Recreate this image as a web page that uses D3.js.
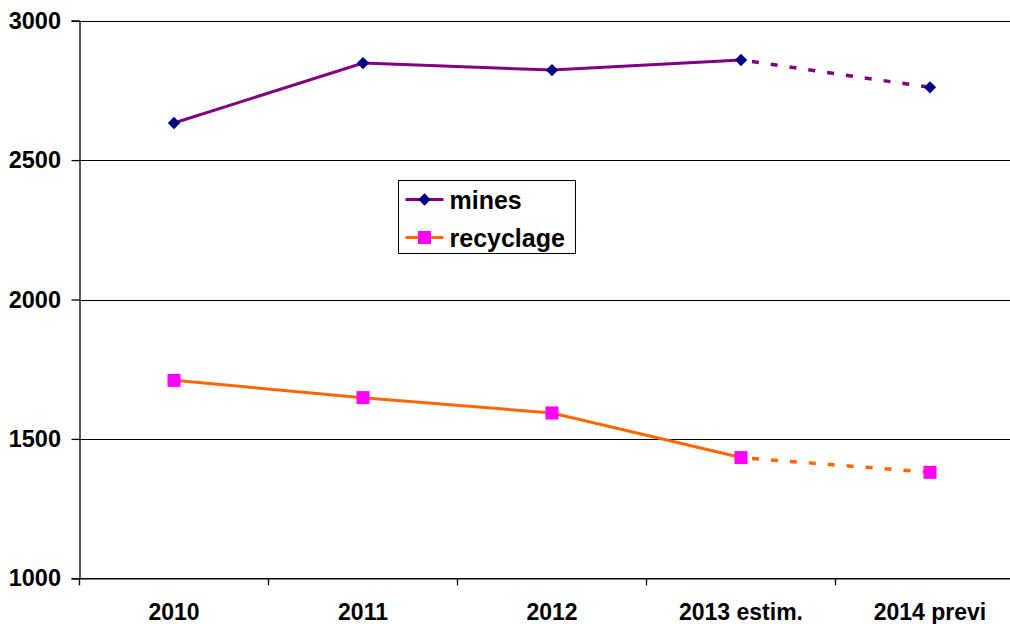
<!DOCTYPE html>
<html>
<head>
<meta charset="utf-8">
<script src="https://cdn.jsdelivr.net/npm/d3@7"></script>
<style>
  html, body { margin: 0; padding: 0; background: #fff; overflow: hidden; }
  svg { display: block; font-family: "Liberation Sans", Arial, sans-serif; }
</style>
</head>
<body>
<svg id="chart" width="1010" height="624"></svg>
<script>
// Categories and series (tonnes)
const categories = ["2010", "2011", "2012", "2013 estim.", "2014 previ"];
const mines = [2633, 2848, 2823, 2859, 2761];
const recyclage = [1710, 1648, 1593, 1433, 1380];
const yTicks = [1000, 1500, 2000, 2500, 3000];
// Index from which values are estimates (drawn dashed)
const estimateFrom = 3;

const svg = d3.select("#chart");
const plotLeft = 79.5, plotRight = 1024.5, plotTop = 20.7, plotBottom = 578.3;

const x = d3.scaleBand().domain(categories).range([plotLeft, plotRight]).padding(0);
const y = d3.scaleLinear().domain([1000, 3000]).range([plotBottom, plotTop]);
const cx = c => x(c) + x.bandwidth() / 2;

// Horizontal gridlines
svg.append("g").selectAll("line").data(yTicks.filter(t => t > 1000)).join("line")
  .attr("x1", plotLeft).attr("x2", plotRight)
  .attr("y1", d => Math.round(y(d)) + 0.5).attr("y2", d => Math.round(y(d)) + 0.5)
  .attr("stroke", "#000").attr("stroke-width", 1);

// Y axis
const yAxis = svg.append("g").attr("transform", `translate(${plotLeft},0)`)
  .call(d3.axisLeft(y).tickValues(yTicks).tickSize(8).tickPadding(10.5).tickFormat(d3.format("d")));
yAxis.select(".domain").attr("stroke", "#000").attr("stroke-width", 1.3);
yAxis.selectAll(".tick line").attr("stroke", "#000").attr("stroke-width", 1.3);
yAxis.selectAll(".tick text").attr("font-size", 23.5).attr("font-weight", "bold")
  .attr("fill", "#000").attr("font-family", "'Liberation Sans', Arial, sans-serif");

// X axis
const xAxis = svg.append("g").attr("transform", `translate(0,${plotBottom})`)
  .call(d3.axisBottom(x).tickSize(0).tickPadding(25.5));
xAxis.select(".domain").attr("stroke", "#000").attr("stroke-width", 1.5);
xAxis.selectAll(".tick text").attr("font-size", 23).attr("font-weight", "bold")
  .attr("fill", "#000").attr("font-family", "'Liberation Sans', Arial, sans-serif");
// Category boundary ticks
xAxis.append("g").selectAll("line").data(categories).join("line")
  .attr("x1", d => x(d)).attr("x2", d => x(d))
  .attr("y1", 0).attr("y2", 7).attr("stroke", "#000").attr("stroke-width", 1.3);

// Series lines: solid for actual values, dashed for estimates
function drawSeries(values, color) {
  const pts = values.map((v, i) => [cx(categories[i]), y(v)]);
  const line = d3.line();
  svg.append("path").attr("d", line(pts.slice(0, estimateFrom + 1)))
    .attr("fill", "none").attr("stroke", color).attr("stroke-width", 3);
  svg.append("path").attr("d", line(pts.slice(estimateFrom)))
    .attr("fill", "none").attr("stroke", color).attr("stroke-width", 3.5)
    .attr("stroke-dasharray", "7 12").attr("stroke-dashoffset", -11);
  return pts;
}

const minePts = drawSeries(mines, "#800080");
const recPts = drawSeries(recyclage, "#FF6600");

const diamond = d3.symbol().type(d3.symbolSquare).size(76);
svg.append("g").selectAll("path").data(minePts).join("path")
  .attr("d", diamond())
  .attr("transform", d => `translate(${d[0]},${d[1]}) rotate(45)`)
  .attr("fill", "#000080");

svg.append("g").selectAll("rect").data(recPts).join("rect")
  .attr("x", d => d[0] - 6.5).attr("y", d => d[1] - 6.5)
  .attr("width", 13).attr("height", 13).attr("fill", "#FF00FF");

// Legend
const lg = svg.append("g").attr("transform", "translate(398.5,180.5)");
lg.append("rect").attr("width", 177).attr("height", 73)
  .attr("fill", "#fff").attr("stroke", "#000").attr("stroke-width", 1);
const legendItems = [
  { name: "mines", line: "#800080", marker: "diamond", fill: "#000080", yy: 19 },
  { name: "recyclage", line: "#FF6600", marker: "square", fill: "#FF00FF", yy: 57 }
];
legendItems.forEach(it => {
  lg.append("line").attr("x1", 7).attr("x2", 45).attr("y1", it.yy).attr("y2", it.yy)
    .attr("stroke", it.line).attr("stroke-width", 3);
  if (it.marker === "diamond") {
    lg.append("path").attr("d", diamond())
      .attr("transform", `translate(26,${it.yy}) rotate(45)`).attr("fill", it.fill);
  } else {
    lg.append("rect").attr("x", 19.5).attr("y", it.yy - 6.5)
      .attr("width", 13).attr("height", 13).attr("fill", it.fill);
  }
  lg.append("text").attr("x", 51).attr("y", it.yy + 9)
    .attr("font-size", 25).attr("font-weight", "bold").attr("fill", "#000")
    .text(it.name);
});
</script>
</body>
</html>
